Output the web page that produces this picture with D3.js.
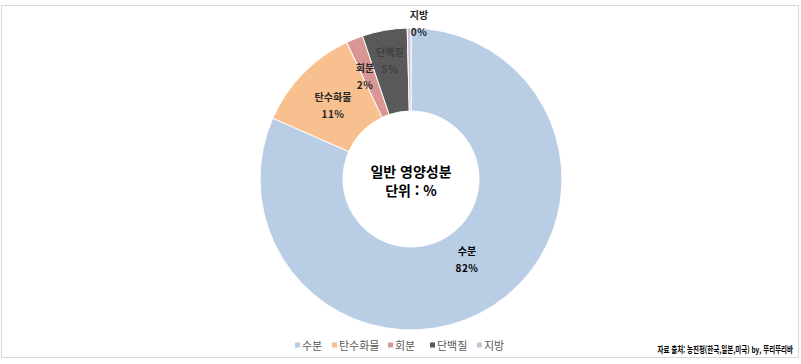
<!DOCTYPE html>
<html lang="ko">
  <head>
    <meta charset="UTF-8" />
    <title>일반 영양성분</title>
    <script src="https://d3js.org/d3.v7.min.js"></script>
    <style>
      body {
        margin: 0;
        padding: 0;
        background: #ffffff;
        font-family: "Noto Sans CJK KR", "Noto Sans", sans-serif;
      }
    </style>
  </head>
  <body>
    <div id="chart"></div>
    <script>
      // data
      const categories = ["수분", "탄수화물", "회분", "단백질", "지방"];
      const values = [81.6, 11.4, 1.8, 4.8, 0.4];
      const labels = ["82%", "11%", "2%", "5%", "0%"];
      const colors = ["#b9cde5", "#f9c08f", "#da9694", "#595959", "#ccc1da"];

      const width = 801, height = 364;
      const cx = 411, cy = 179;
      const outerR = 151, innerR = 68;

      const svg = d3.select("#chart").append("svg")
        .attr("width", width)
        .attr("height", height);

      // chart frame
      svg.append("rect")
        .attr("x", 1.5).attr("y", 5.5)
        .attr("width", 797).attr("height", 352)
        .attr("fill", "#fff")
        .attr("stroke", "#d9d9d9");

      const data = categories.map((c, i) => ({ name: c, value: values[i], label: labels[i], color: colors[i] }));

      const pie = d3.pie().value(d => d.value).sort(null);
      const arc = d3.arc().innerRadius(innerR).outerRadius(outerR);
      const arcs = pie(data);

      const g = svg.append("g").attr("transform", `translate(${cx},${cy})`);

      g.selectAll("path")
        .data(arcs)
        .enter()
        .append("path")
        .attr("d", arc)
        .attr("fill", d => d.data.color)
        .attr("stroke", "#fff")
        .attr("stroke-width", 1);

      // data labels (positioned relative to their slices)
      const labelPos = [
        [56, 80],    // 수분
        [-78, -74],  // 탄수화물
        [-46, -103], // 회분
        [-21, -119], // 단백질
        [8, -156]    // 지방
      ];
      const labelColor = ["#000", "#262626", "#262626", "#404040", "#262626"];

      const lab = g.selectAll("g.lbl")
        .data(arcs)
        .enter()
        .append("g")
        .attr("class", "lbl")
        .attr("transform", (d, i) => `translate(${labelPos[i][0]},${labelPos[i][1]})`)
        .attr("text-anchor", "middle")
        .style("font-size", "10px")
        .style("font-weight", "bold")
        .attr("fill", (d, i) => labelColor[i]);

      lab.append("text").attr("y", -4).text(d => d.data.name);
      lab.append("text").attr("y", 13).style("letter-spacing", "0.5px").text(d => d.data.label);

      // centre title
      const center = g.append("g")
        .attr("text-anchor", "middle")
        .style("font-size", "14px")
        .style("font-weight", "bold")
        .attr("fill", "#000");
      center.append("text").attr("y", -2).text("일반 영양성분");
      center.append("text").attr("y", 17).text("단위 : %");

      // legend
      const legendX = [297, 334, 390, 432, 479];
      const legend = svg.selectAll("g.legend")
        .data(data)
        .enter()
        .append("g")
        .attr("class", "legend")
        .attr("transform", (d, i) => `translate(${legendX[i]},345)`);
      legend.append("rect")
        .attr("x", -2).attr("y", -2.5)
        .attr("width", 5).attr("height", 5)
        .attr("fill", d => d.color);
      legend.append("text")
        .attr("x", 5).attr("y", 4.5)
        .style("font-size", "11px")
        .attr("fill", "#595959")
        .text(d => d.name);

      // source note (condensed horizontally like the original)
      svg.append("g")
        .attr("transform", "translate(793,353) scale(0.72,1)")
        .append("text")
        .attr("text-anchor", "end")
        .style("font-size", "9px")
        .style("font-weight", "bold")
        .attr("fill", "#000")
        .text("자료 출처: 농진청(한국,일본,미국) by, 뚜리뚜리바");
    </script>
  </body>
</html>
